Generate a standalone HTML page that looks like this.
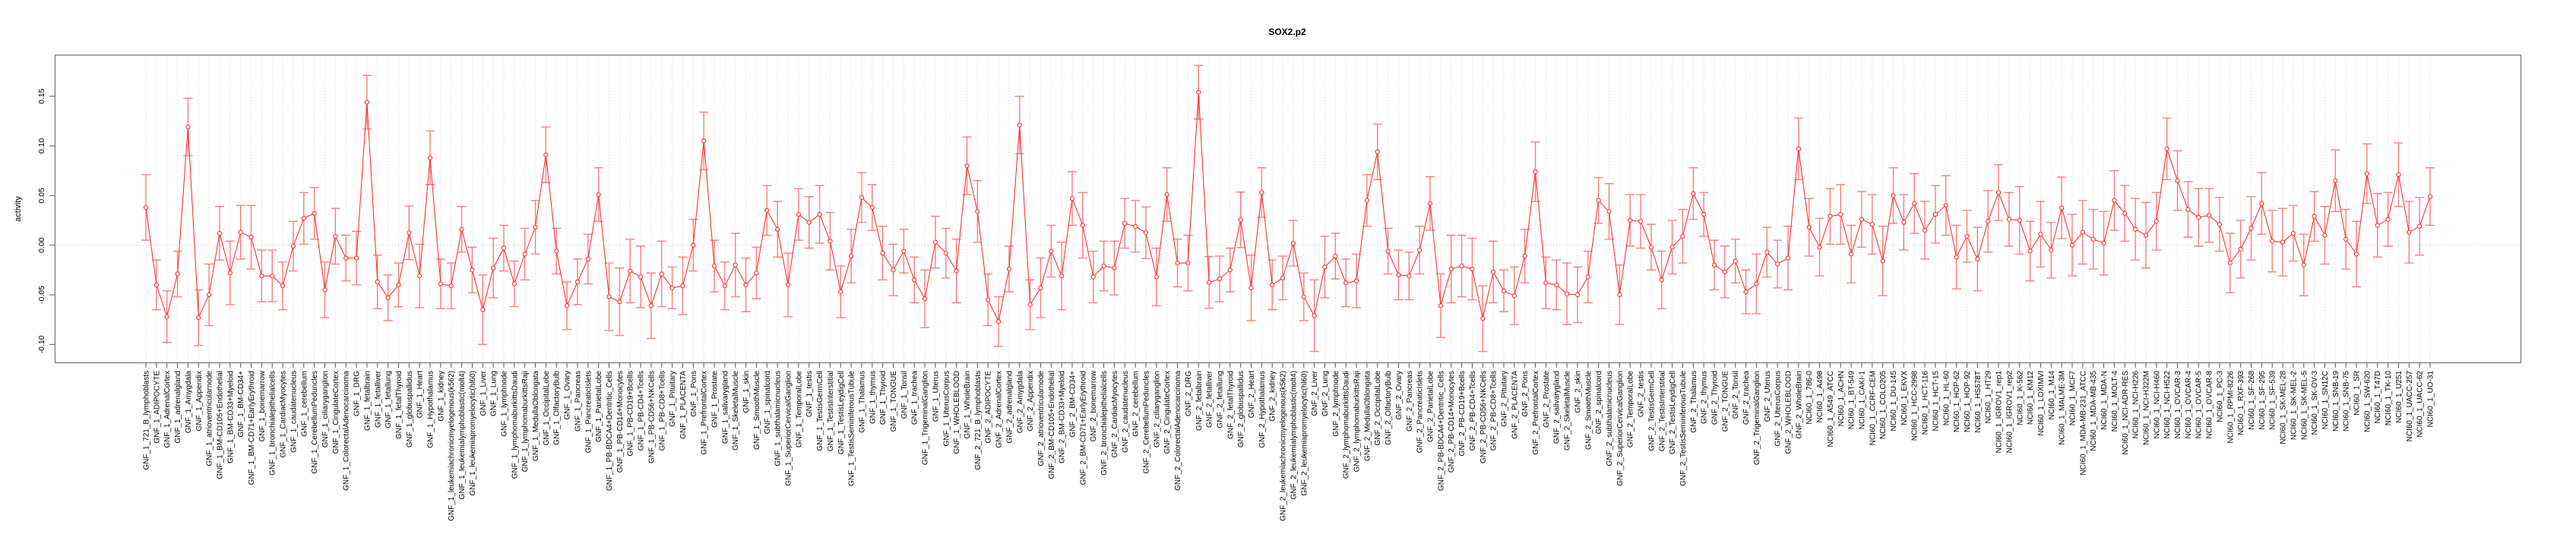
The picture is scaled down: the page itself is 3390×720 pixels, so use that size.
<!DOCTYPE html>
<html><head><meta charset="utf-8"><title>SOX2.p2</title>
<style>
html,body{margin:0;padding:0;background:#fff;}
svg{display:block;font-family:"Liberation Sans",Arial,sans-serif;}
</style></head>
<body>
<svg id="chart" width="3390" height="720" viewBox="0 0 3390 720" xmlns="http://www.w3.org/2000/svg">
<rect x="0" y="0" width="3390" height="720" fill="#fff"/>
<text x="1694" y="46" text-anchor="middle" font-size="12" font-weight="bold">SOX2.p2</text>
<text transform="translate(27,275) rotate(-90)" text-anchor="middle" font-size="11">activity</text>
<g id="grid"></g>
<g id="yaxis"></g>
<g id="xaxis"></g>
<g id="series"></g>
<rect x="72.5" y="72.5" width="3245" height="405" fill="none" stroke="#888" stroke-width="1.5"/>
</svg>
<script>
const tissues = ["721_B_lymphoblasts","ADIPOCYTE","AdrenalCortex","adrenalgland","Amygdala","Appendix","atrioventricularnode","BM-CD105+Endothelial","BM-CD33+Myeloid","BM-CD34+","BM-CD71+EarlyErythroid","bonemarrow","bronchialepithelialcells","CardiacMyocytes","caudatenucleus","cerebellum","CerebellumPeduncles","ciliaryganglion","CingulateCortex","ColorectalAdenocarcinoma","DRG","fetalbrain","fetalliver","fetallung","fetalThyroid","globuspallidus","Heart","Hypothalamus","kidney","leukemiachronicmyelogenous(k562)","leukemialymphoblastic(molt4)","leukemiapromyelocytic(hl60)","Liver","Lung","lymphnode","lymphomaburkittsDaudi","lymphomaburkittsRaji","MedullaOblongata","OccipitalLobe","OlfactoryBulb","Ovary","Pancreas","PancreaticIslets","ParietalLobe","PB-BDCA4+Dentritic_Cells","PB-CD14+Monocytes","PB-CD19+Bcells","PB-CD4+Tcells","PB-CD56+NKCells","PB-CD8+Tcells","Pituitary","PLACENTA","Pons","PrefrontalCortex","Prostate","salivarygland","SkeletalMuscle","skin","SmoothMuscle","spinalcord","subthalamicnucleus","SuperiorCervicalGanglion","TemporalLobe","testis","TestisGermCell","TestisInterstitial","TestisLeydigCell","TestisSeminiferousTubule","Thalamus","thymus","Thyroid","TONGUE","Tonsil","trachea","TrigeminalGanglion","Uterus","UterusCorpus","WHOLEBLOOD","WholeBrain"];
const cellLines = ["786-0","A498","A549_ATCC","ACHN","BT-549","CAKI-1","CCRF-CEM","COLO205","DU-145","EKVX","HCC-2998","HCT-116","HCT-15","HL-60","HOP-62","HOP-92","HS578T","HT29","IGROV1_rep1","IGROV1_rep2","K-562","KM12","LOXIMVI","M14","MALME-3M","MCF7","MDA-MB-231_ATCC","MDA-MB-435","MDA-N","MOLT-4","NCI-ADR-RES","NCI-H226","NCI-H322M","NCI-H460","NCI-H522","OVCAR-3","OVCAR-4","OVCAR-5","OVCAR-8","PC-3","RPMI-8226","RXF-393","SF-268","SF-295","SF-539","SK-MEL-28","SK-MEL-2","SK-MEL-5","SK-OV-3","SN12C","SNB-19","SNB-75","SR","SW-620","T47D","TK-10","U251","UACC-257","UACC-62","UO-31"];
const categories = tissues.map(t=>"GNF_1_"+t).concat(tissues.map(t=>"GNF_2_"+t)).concat(cellLines.map(c=>"NCI60_1_"+c));
const means = [0.038,-0.040,-0.072,-0.029,0.119,-0.073,-0.050,0.012,-0.028,0.013,0.008,-0.031,-0.031,-0.041,-0.001,0.027,0.032,-0.045,0.009,-0.013,-0.013,0.144,-0.037,
-0.053,-0.040,0.0125,-0.031,0.088,-0.039,-0.041,0.016,-0.025,-0.065,-0.023,-0.003,-0.039,-0.009,0.018,0.091,-0.006,-0.061,-0.037,-0.014,0.051,-0.052,-0.057,-0.026,-0.032,-0.061,-0.029,-0.043,-0.041,0.000,0.105,-0.021,-0.041,-0.020,-0.040,-0.028,0.035,0.016,-0.040,
0.031,0.023,0.031,0.004,-0.047,-0.011,0.048,0.038,-0.008,-0.025,-0.006,-0.035,-0.054,0.003,-0.008,-0.026,0.080,0.034,-0.055,-0.077,-0.024,0.121,-0.060,-0.043,-0.006,-0.031,0.047,0.020,-0.032,-0.021,-0.023,0.022,0.019,0.0125,-0.032,0.051,-0.018,-0.018,0.154,
-0.0375,-0.034,-0.025,0.0255,-0.043,0.053,-0.040,-0.033,0.002,-0.052,-0.071,-0.022,-0.011,-0.038,-0.036,0.045,0.094,-0.006,-0.030,-0.031,-0.005,0.042,-0.061,-0.024,-0.021,-0.024,-0.074,-0.027,-0.046,-0.051,-0.011,0.074,-0.038,-0.040,-0.049,-0.050,-0.032,0.045,0.034,-0.050,
0.025,0.024,-0.002,-0.035,-0.002,0.009,0.052,0.031,-0.020,-0.027,-0.016,-0.047,-0.039,-0.007,-0.019,-0.013,0.097,0.018,-0.002,0.029,0.031,-0.009,0.026,0.021,-0.016,0.050,0.023,0.042,0.015,0.031,0.040,-0.012,0.009,-0.014,0.024,0.053,0.026,0.025,-0.006,
0.011,-0.005,0.0375,0.000,0.013,0.006,0.002,0.045,0.032,0.016,0.010,0.024,0.097,0.065,0.036,0.028,0.030,0.021,-0.018,-0.004,0.017,0.042,0.004,0.003,0.012,-0.020,0.029,0.010,0.065,0.006,-0.009,0.072,0.020,0.026,0.071,0.013,0.019,0.049];
const errs = [0.033,0.025,0.026,0.023,0.029,0.028,0.031,0.027,0.032,0.027,0.032,0.026,0.026,0.024,0.025,0.026,0.026,0.028,0.028,0.023,0.027,0.027,0.027,
0.023,0.022,0.027,0.032,0.027,0.025,0.023,0.023,0.023,0.035,0.030,0.023,0.023,0.026,0.027,0.028,0.023,0.024,0.023,0.025,0.027,0.034,0.034,0.032,0.031,0.033,0.033,0.021,0.029,0.026,0.029,0.026,0.024,0.032,0.027,0.026,0.025,0.028,0.032,
0.026,0.026,0.029,0.029,0.026,0.027,0.025,0.023,0.027,0.026,0.022,0.023,0.029,0.026,0.025,0.032,0.029,0.031,0.026,0.025,0.023,0.029,0.025,0.030,0.026,0.034,0.027,0.033,0.026,0.025,0.027,0.025,0.026,0.026,0.029,0.027,0.024,0.028,0.027,
0.026,0.023,0.022,0.028,0.033,0.025,0.025,0.022,0.023,0.024,0.036,0.031,0.023,0.024,0.027,0.026,0.028,0.023,0.025,0.024,0.024,0.027,0.032,0.034,0.031,0.031,0.033,0.031,0.021,0.029,0.027,0.030,0.026,0.025,0.031,0.028,0.026,0.023,0.028,0.030,
0.026,0.027,0.023,0.029,0.027,0.027,0.026,0.022,0.025,0.026,0.022,0.022,0.030,0.025,0.024,0.032,0.031,0.029,0.029,0.028,0.030,0.029,0.028,0.030,0.035,0.028,0.028,0.030,0.029,0.029,0.030,0.032,0.026,0.032,0.031,0.028,0.027,0.034,0.030,
0.033,0.028,0.031,0.031,0.032,0.030,0.032,0.030,0.028,0.031,0.033,0.029,0.031,0.030,0.028,0.029,0.027,0.027,0.030,0.029,0.032,0.031,0.031,0.034,0.028,0.031,0.025,0.029,0.031,0.030,0.033,0.030,0.032,0.027,0.032,0.031,0.029,0.029];
const yTicks = [-0.10,-0.05,0.00,0.05,0.10,0.15];
const yTickLabels = ["-0.10","-0.05","0.00","0.05","0.10","0.15"];

const NS = "http://www.w3.org/2000/svg";
const n = categories.length;
// axis functions
const PL = 72, PR = 3317, PT = 72, PB = 477;
const firstX = 192, lastX = 3198;
function xScale(i){ return firstX + i*(lastX-firstX)/(n-1); }
const Y0 = 322.7, YK = 1306.7;
function yScale(v){ return Y0 - v*YK; }
function mk(tag, attrs, parent){ const e=document.createElementNS(NS,tag); for(const k in attrs) e.setAttribute(k,attrs[k]); parent.appendChild(e); return e; }

const grid=document.getElementById('grid'), yaxis=document.getElementById('yaxis'), xaxis=document.getElementById('xaxis'), series=document.getElementById('series');

for(let i=0;i<n;i++){
  const x=xScale(i);
  const g=mk('line',{x1:x,x2:x,y1:PT,y2:PB,stroke:'#d0d0d0','stroke-width':0.8,'stroke-dasharray':'1,3'},grid);
  
  
  const t=mk('line',{x1:x,x2:x,y1:PB,y2:PB+7,stroke:'#555','stroke-width':1},xaxis);
  
  
  const lb=mk('text',{transform:`translate(${x+3.5},${PB+11}) rotate(-90)`,'text-anchor':'end','font-size':'10',fill:'#000'},xaxis);
  lb.textContent=categories[i];
  
  
}
const zl=mk('line',{x1:PL,x2:PR,y1:yScale(0),y2:yScale(0),stroke:'#ccc','stroke-width':1,'stroke-dasharray':'1,3'},grid);



for(let j=0;j<yTicks.length;j++){
  const y=yScale(yTicks[j]);
  const t=mk('line',{x1:PL-7,x2:PL,y1:y,y2:y,stroke:'#555','stroke-width':1},yaxis);
  
  
  const lb=mk('text',{transform:`translate(${PL-14},${y}) rotate(-90)`,'text-anchor':'middle','font-size':'10.5',fill:'#000'},yaxis);
  lb.textContent=yTickLabels[j];
  
  
}

// connecting line
let d='';
for(let i=0;i<n;i++){ d+=(i?'L':'M')+xScale(i).toFixed(1)+','+yScale(means[i]).toFixed(1); }
const ln=mk('path',{d:d,fill:'none',stroke:'#ff2020','stroke-width':1},series);



for(let i=0;i<n;i++){
  const x=xScale(i), yt=yScale(means[i]+errs[i]), yb=yScale(means[i]-errs[i]), ym=yScale(means[i]);
  const eb=mk('path',{d:`M${x},${yt}L${x},${yb}M${x-6},${yt}L${x+6},${yt}M${x-6},${yb}L${x+6},${yb}`,fill:'none',stroke:'rgba(255,40,40,0.6)','stroke-width':1.4},series);
  
  
  const c=mk('circle',{cx:x,cy:ym,r:2.6,fill:'#fff',stroke:'#ff2020','stroke-width':1},series);
  
  
}
</script>
</body></html>
